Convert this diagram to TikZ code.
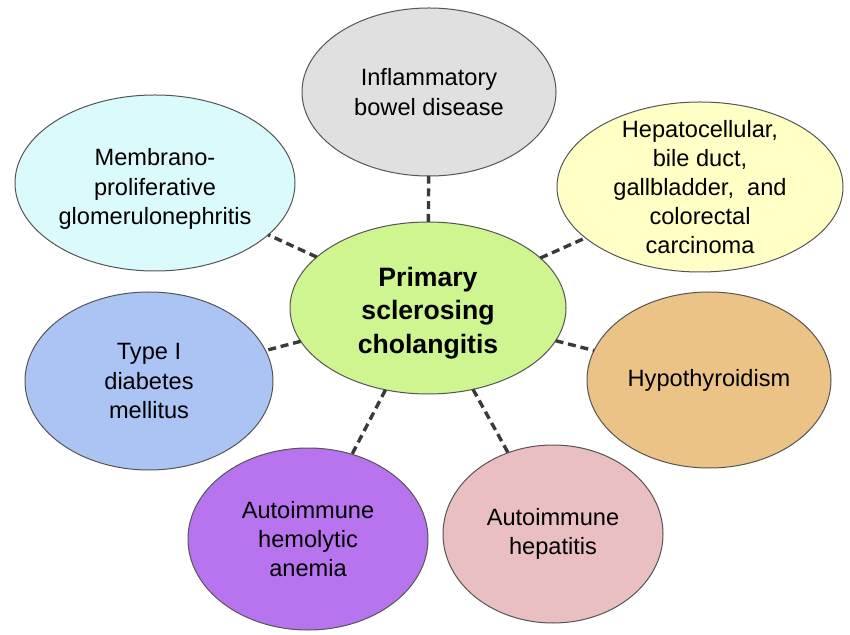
\documentclass[tikz,border=0pt]{standalone}
\usepackage{fontspec}
\setmainfont{Liberation Sans}
\usetikzlibrary{shapes.geometric}
\definecolor{cgreen}{HTML}{CEF590}
\definecolor{cgray}{HTML}{E0E0E0}
\definecolor{cyellow}{HTML}{FFFFC6}
\definecolor{ccyan}{HTML}{DBFAFC}
\definecolor{cblue}{HTML}{ABC4F4}
\definecolor{corange}{HTML}{EBC386}
\definecolor{cpurple}{HTML}{B873EE}
\definecolor{cpink}{HTML}{E9BFC2}
\definecolor{cedge}{HTML}{555555}
\definecolor{cdash}{HTML}{3A3A3A}
\tikzset{
  bub/.style={ellipse, draw=cedge, line width=0.5pt, inner sep=0pt, outer sep=0pt},
  txt/.style={inner sep=0pt, align=center, font=\fontsize{11.8}{14.6}\selectfont},
  ttl/.style={inner sep=0pt, align=center, font=\fontsize{13.3}{16.8}\selectfont\bfseries},
  conn/.style={draw=cdash, line width=1.7pt, dash pattern=on 4pt off 2.4pt}
}
\begin{document}
\begin{tikzpicture}[x=0.5pt, y=-0.5pt]
\useasboundingbox (0,0) rectangle (850,635);
\fill[white] (0,0) rectangle (850,635);
% bubbles
\node[bub, fill=cgreen,  minimum width=138pt, minimum height=86pt] (c)   at (428,308) {};
\node[bub, fill=cgray,   minimum width=127pt, minimum height=84pt] (ibd) at (429,92) {};
\node[bub, fill=cyellow, minimum width=143pt, minimum height=85pt] (hep) at (700,187) {};
\node[bub, fill=ccyan,   minimum width=140pt, minimum height=88pt] (mem) at (155,183) {};
\node[bub, fill=cblue,   minimum width=124pt, minimum height=89pt] (dia) at (149,381) {};
\node[bub, fill=corange, minimum width=122pt, minimum height=88pt] (thy) at (709,380) {};
\node[bub, fill=cpurple, minimum width=120pt, minimum height=91pt] (ane) at (308,539) {};
\node[bub, fill=cpink,   minimum width=110pt, minimum height=89pt] (aih) at (553,534) {};
% connectors
\draw[conn] (c) -- (ibd);
\draw[conn] (c) -- (hep);
\draw[conn] (c) -- (mem);
\draw[conn] (c) -- (dia);
\draw[conn] (c) -- (thy);
\draw[conn] (c) -- (ane);
\draw[conn] (c) -- (aih);
% texts
\node[ttl] (ct)   at ([yshift=-2.5pt]c.center) {Primary\\sclerosing\\cholangitis};
\node[txt] (ibdt) at (ibd) {Inflammatory\\bowel disease};
\node[txt] (hept) at (hep) {Hepatocellular,\\bile duct,\\gallbladder,\ \ and\\colorectal\\carcinoma};
\node[txt] (memt) at ([yshift=-3pt]mem.center) {Membrano-\\proliferative\\glomerulonephritis};
\node[txt] (diat) at (dia) {Type I\\diabetes\\mellitus};
\node[txt] (thyt) at (thy) {Hypothyroidism};
\node[txt] (anet) at (ane) {Autoimmune\\hemolytic\\anemia};
\node[txt] (aiht) at (aih) {Autoimmune\\hepatitis};
\end{tikzpicture}
\end{document}
